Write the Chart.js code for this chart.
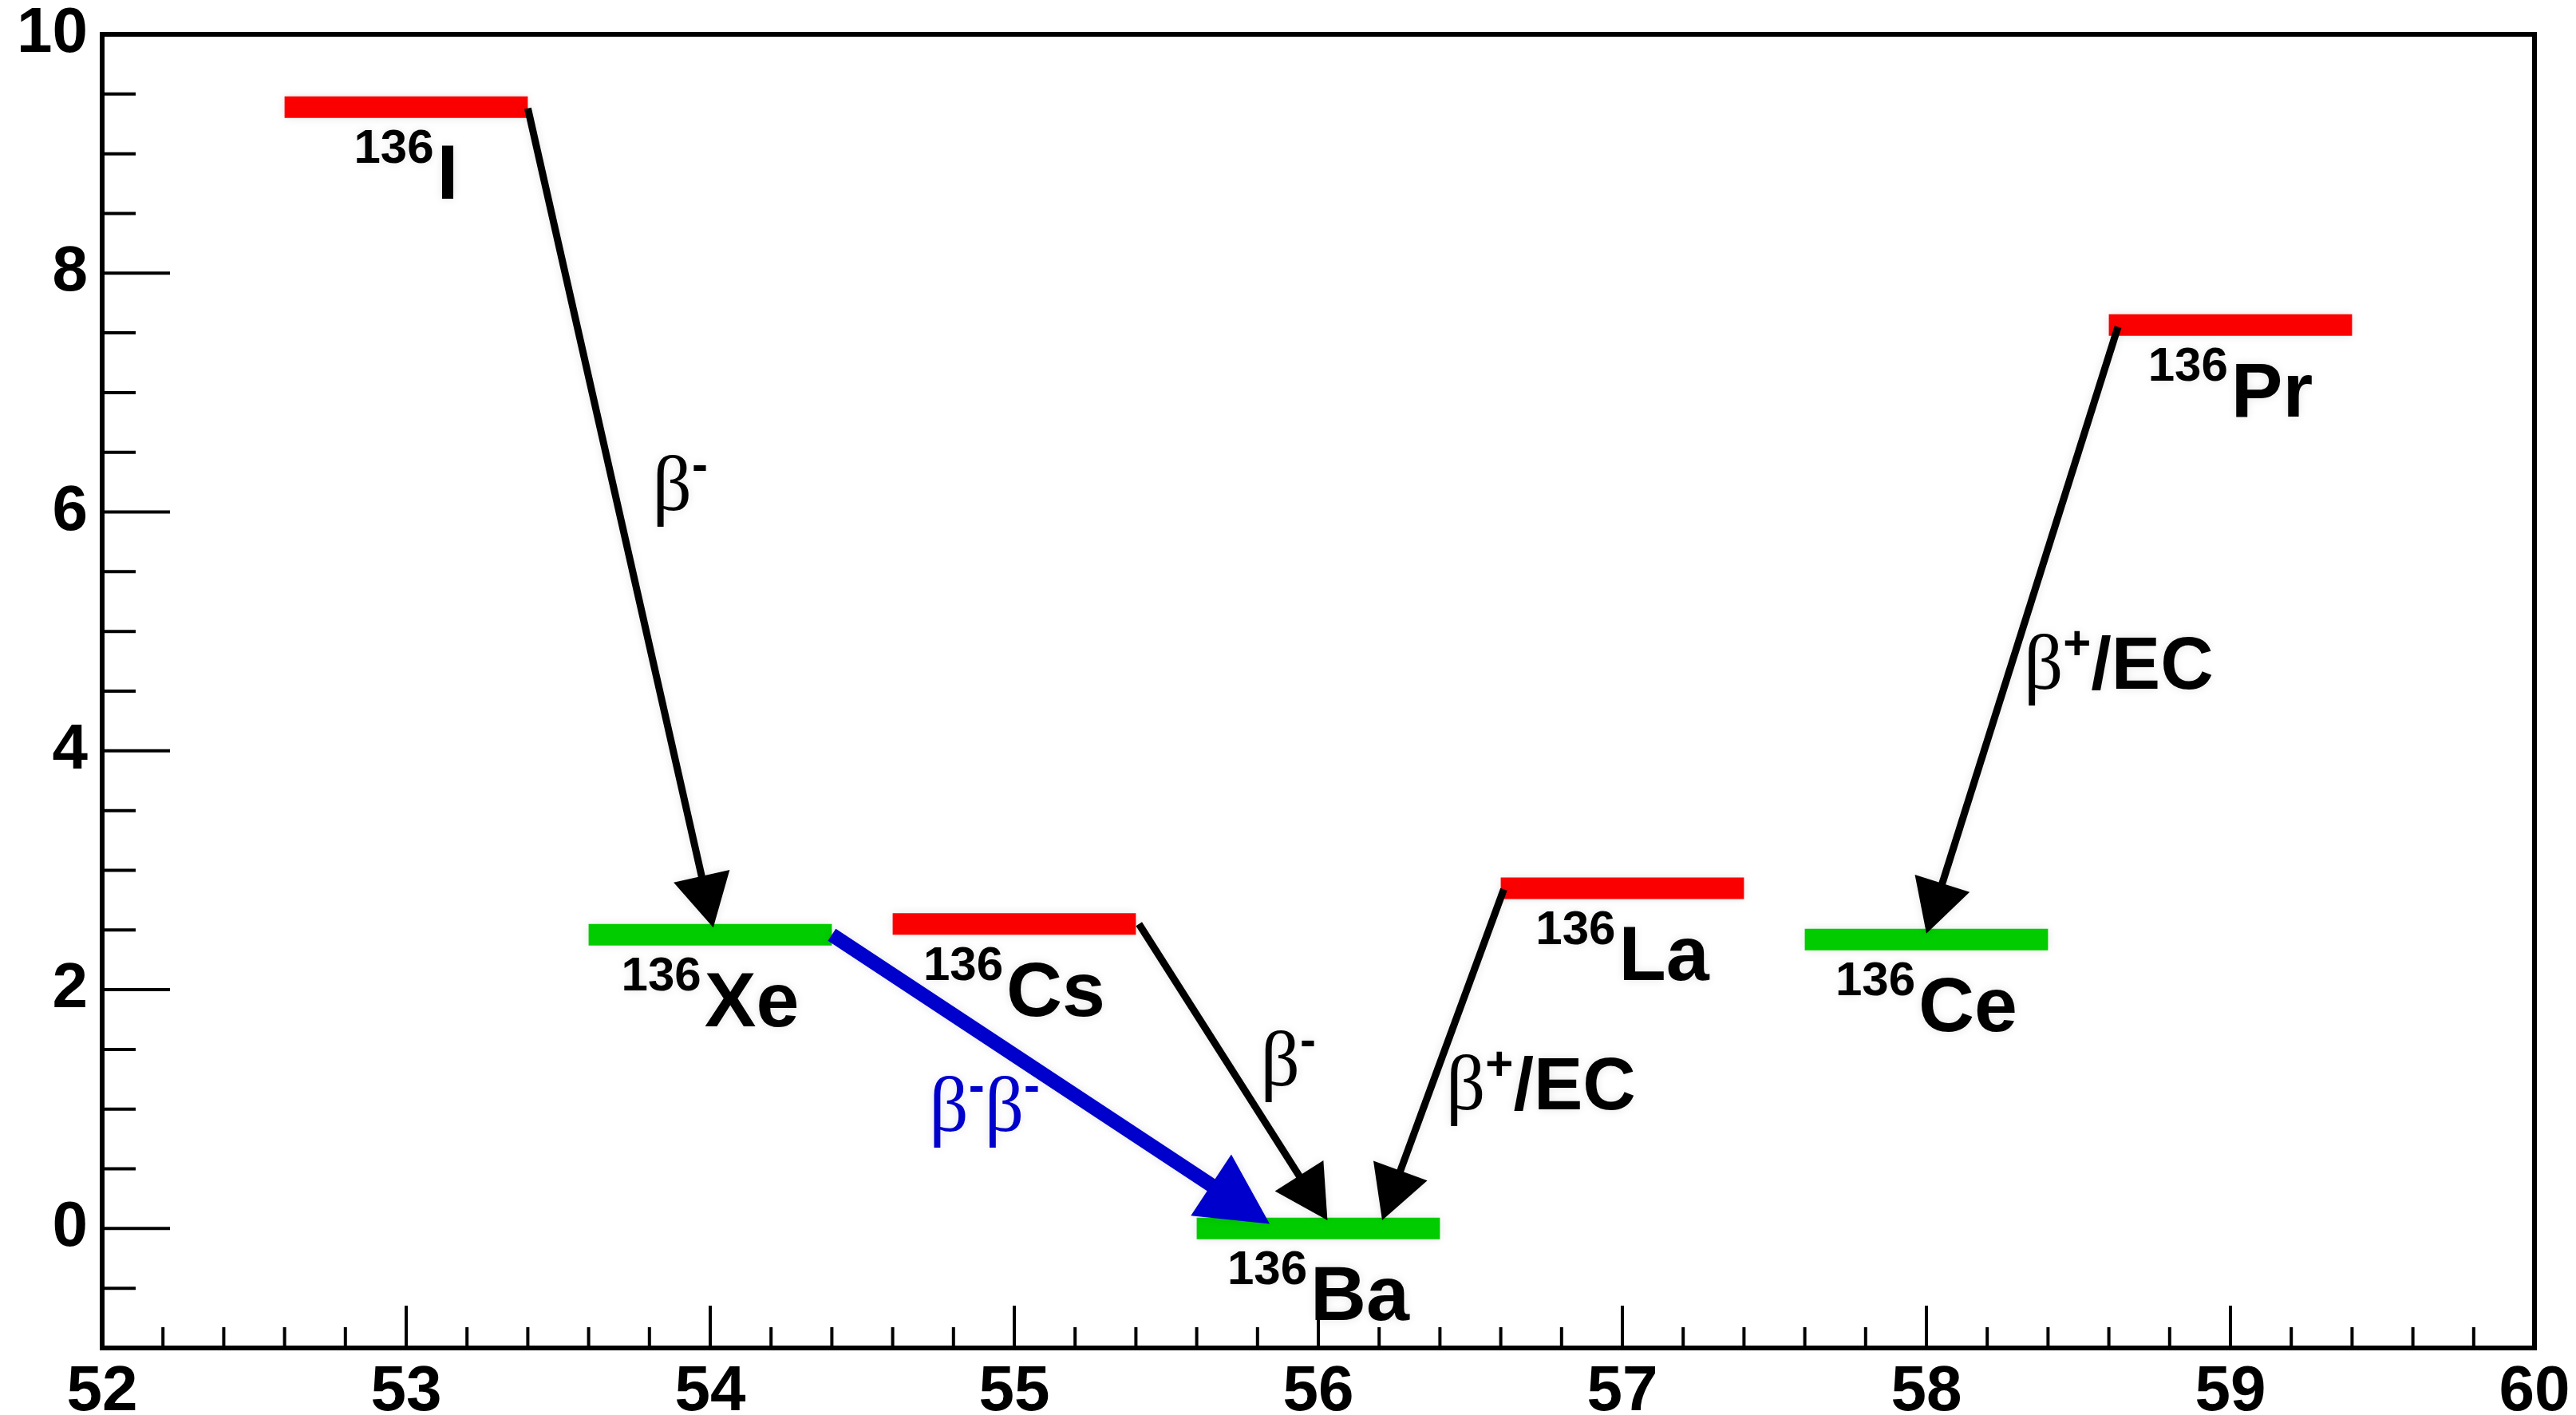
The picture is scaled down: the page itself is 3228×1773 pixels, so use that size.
<!DOCTYPE html>
<html>
<head>
<meta charset="utf-8">
<script src="https://cdn.jsdelivr.net/npm/chart.js"></script>
<style>
html, body { margin: 0; padding: 0; background: #fff; }
canvas { display: block; }
</style>
</head>
<body>
<canvas id="c" width="3228" height="1773"></canvas>
<script>
// A = 136 isobars, level energy (MeV, relative to 136Ba) vs Z
var massNumber = '136';
var nuclides = ['I', 'Xe', 'Cs', 'Ba', 'La', 'Ce', 'Pr'];
var levelZ = [53, 54, 55, 56, 57, 58, 59];
var levelE = [9.39, 2.46, 2.55, 0, 2.85, 2.42, 7.565];
var levelStable = [false, true, false, true, false, true, false];

// decay arrows, from (x1,y1) to (x2,y2) in Z / MeV
var arrowX1 = [53.40, 54.40, 55.41, 56.61, 58.63];
var arrowY1 = [9.38, 2.46, 2.55, 2.84, 7.55];
var arrowX2 = [54.01, 55.84, 56.03, 56.21, 58.00];
var arrowY2 = [2.52, 0.04, 0.07, 0.07, 2.47];
var arrowDouble = [false, true, false, false, false];

// decay mode texts and where they sit
var decayText = ['β⁻', 'β⁻β⁻', 'β⁻', 'β⁺/EC', 'β⁺/EC'];
var decayX = [53.81, 54.72, 55.81, 56.42, 58.32];
var decayY = [6.02, 0.82, 1.20, 1.00, 4.52];

// labelled ticks
var xTickLabels = [52, 53, 54, 55, 56, 57, 58, 59, 60];
var yTickLabels = [0, 2, 4, 6, 8, 10];

var RED = '#fa0000', GREEN = '#00cc00', BLUE = '#0000cc', BLACK = '#000';
var SANS = '"Liberation Sans", Arial, Helvetica, sans-serif';
var SERIF = '"Liberation Serif", "Times New Roman", serif';
var HALO = 'rgba(0,0,0,0.10)';

function near(list, v){
	for (var i = 0; i < list.length; i++)
		if (Math.abs(list[i] - v) < 1e-6) return true;
	return false;
}

var datasets = levelZ.map(function(z, i){
	return {
		label: massNumber + nuclides[i],
		data: [{x: z - 0.4, y: levelE[i]}, {x: z + 0.4, y: levelE[i]}],
		borderColor: levelStable[i] ? GREEN : RED,
		borderWidth: 27,
		borderCapStyle: 'butt',
		pointRadius: 0,
		showLine: true,
		fill: false
	};
});

function drawArrow(ctx, x1, y1, x2, y2, color, width, headLen, headHalf){
	var dx = x2 - x1, dy = y2 - y1;
	var L = Math.sqrt(dx*dx + dy*dy), ux = dx/L, uy = dy/L;
	var bx = x2 - ux*headLen, by = y2 - uy*headLen;
	ctx.strokeStyle = color;
	ctx.lineWidth = width;
	ctx.lineCap = 'butt';
	ctx.beginPath();
	ctx.moveTo(x1, y1);
	ctx.lineTo(bx + ux*4, by + uy*4);
	ctx.stroke();
	ctx.fillStyle = color;
	ctx.beginPath();
	ctx.moveTo(x2, y2);
	ctx.lineTo(bx - uy*headHalf, by + ux*headHalf);
	ctx.lineTo(bx + uy*headHalf, by - ux*headHalf);
	ctx.closePath();
	ctx.fill();
}

function drawMode(ctx, str, x, y, color){
	ctx.fillStyle = color;
	ctx.textAlign = 'left';
	ctx.textBaseline = 'alphabetic';
	for (var ch of str){
		var s = ch, dy = 0;
		if (ch === 'β'){
			ctx.font = '97px ' + SERIF;
		}
		else if (ch === '⁻' || ch === '⁺'){
			s = ch === '⁻' ? '-' : '+';
			ctx.font = 'bold 60px ' + SANS;
			dy = -37;
		}
		else {
			ctx.font = 'bold 92px ' + SANS;
		}
		ctx.fillText(s, x, y + dy);
		x += ctx.measureText(s).width;
	}
}

var schemePlugin = {
	id: 'scheme',
	beforeDatasetsDraw: function(chart){
		chart.ctx.save();
		chart.ctx.shadowColor = HALO;
		chart.ctx.shadowBlur = 12;
	},
	afterDatasetsDraw: function(chart){
		var ctx = chart.ctx, xs = chart.scales.x, ys = chart.scales.y;
		ctx.restore();
		ctx.save();
		ctx.shadowColor = HALO;
		ctx.shadowBlur = 12;
		// arrows
		for (var i = 0; i < arrowX1.length; i++){
			var dbl = arrowDouble[i];
			drawArrow(ctx,
				xs.getPixelForValue(arrowX1[i]), ys.getPixelForValue(arrowY1[i]),
				xs.getPixelForValue(arrowX2[i]), ys.getPixelForValue(arrowY2[i]),
				dbl ? BLUE : BLACK, dbl ? 18 : 9, dbl ? 88 : 66, dbl ? 46 : 36);
		}
		// nuclide names
		ctx.fillStyle = BLACK;
		ctx.textAlign = 'left';
		ctx.textBaseline = 'alphabetic';
		for (var j = 0; j < levelZ.length; j++){
			ctx.font = 'bold 60px ' + SANS;
			var w1 = ctx.measureText(massNumber).width;
			ctx.font = 'bold 97px ' + SANS;
			var w2 = ctx.measureText(nuclides[j]).width;
			var gap = 4;
			var left = xs.getPixelForValue(levelZ[j]) - (w1 + gap + w2)/2;
			var base = ys.getPixelForValue(levelE[j]) + 115;
			ctx.font = 'bold 60px ' + SANS;
			ctx.fillText(massNumber, left, base - 45);
			ctx.font = 'bold 97px ' + SANS;
			ctx.fillText(nuclides[j], left + w1 + gap, base);
		}
		// decay modes
		for (var k = 0; k < decayText.length; k++){
			drawMode(ctx, decayText[k], xs.getPixelForValue(decayX[k]), ys.getPixelForValue(decayY[k]),
				arrowDouble[k] ? BLUE : BLACK);
		}
		ctx.restore();
	},
	afterDraw: function(chart){
		var ctx = chart.ctx, a = chart.chartArea, xs = chart.scales.x, ys = chart.scales.y;
		ctx.save();
		ctx.strokeStyle = BLACK;
		ctx.lineCap = 'butt';
		ctx.lineWidth = 4;
		xs.ticks.forEach(function(t){
			var px = xs.getPixelForValue(t.value);
			var len = near(xTickLabels, t.value) ? 53 : 26;
			ctx.beginPath();
			ctx.moveTo(px, a.bottom);
			ctx.lineTo(px, a.bottom - len);
			ctx.stroke();
		});
		ys.ticks.forEach(function(t){
			var py = ys.getPixelForValue(t.value);
			var len = near(yTickLabels, t.value) ? 85 : 42;
			ctx.beginPath();
			ctx.moveTo(a.left, py);
			ctx.lineTo(a.left + len, py);
			ctx.stroke();
		});
		ctx.lineWidth = 6;
		ctx.strokeRect(a.left, a.top, a.right - a.left, a.bottom - a.top);
		ctx.restore();
	}
};

Chart.defaults.color = BLACK;

new Chart(document.getElementById('c'), {
	type: 'scatter',
	data: { datasets: datasets },
	plugins: [schemePlugin],
	options: {
		responsive: false,
		animation: false,
		devicePixelRatio: 1,
		layout: { padding: { left: 0, top: 43, right: 52, bottom: 0 } },
		plugins: { legend: { display: false }, tooltip: { enabled: false } },
		scales: {
			x: {
				type: 'linear',
				min: 52, max: 60,
				grid: { display: false, drawTicks: false },
				border: { display: false },
				ticks: {
					stepSize: 0.2,
					autoSkip: false,
					maxRotation: 0,
					padding: 8,
					font: { family: SANS, weight: 'bold', size: 80 },
					callback: function(v){
						var r = Math.round(v*100)/100;
						return near(xTickLabels, r) ? String(Math.round(r)) : '';
					}
				},
				afterFit: function(s){ s.height = 84; s.paddingLeft = 0; s.paddingRight = 0; }
			},
			y: {
				type: 'linear',
				min: -1, max: 10,
				grid: { display: false, drawTicks: false },
				border: { display: false },
				ticks: {
					stepSize: 0.5,
					autoSkip: false,
					padding: 18,
					font: { family: SANS, weight: 'bold', size: 80 },
					callback: function(v){
						var r = Math.round(v*100)/100;
						return near(yTickLabels, r) ? String(Math.round(r)) : '';
					}
				},
				afterFit: function(s){ s.width = 128; s.paddingTop = 0; s.paddingBottom = 0; }
			}
		}
	}
});
</script>
</body>
</html>
